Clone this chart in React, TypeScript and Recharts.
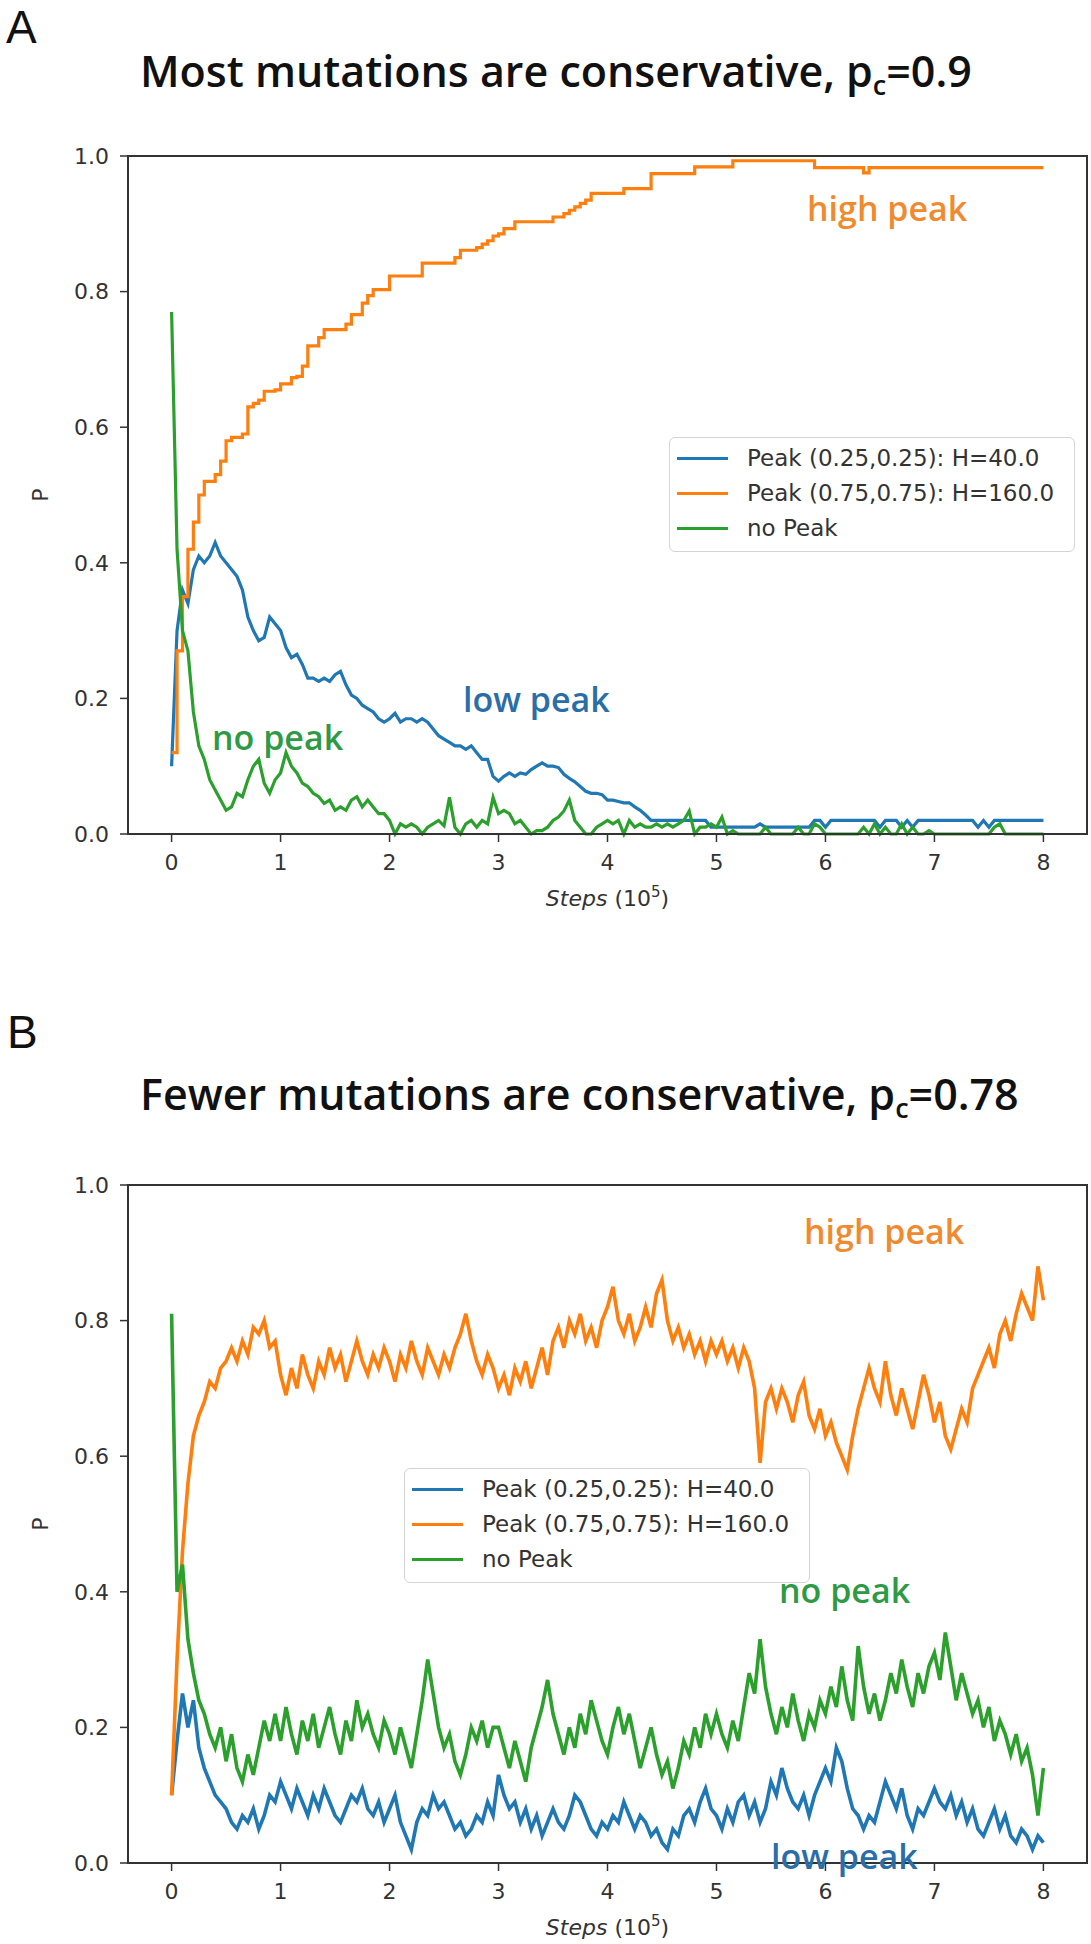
import React from "react";
import { LineChart, Line, XAxis, YAxis, ReferenceArea, Legend } from "recharts";

// x positions (steps, in units of 10^5)
const STEPS = [
  0, 0.05, 0.1, 0.15, 0.2, 0.25, 0.3, 0.35, 0.4, 0.45, 0.5, 0.55, 0.6, 0.65, 0.7, 0.75, 0.8, 0.85, 0.9, 0.95,
  1, 1.05, 1.1, 1.15, 1.2, 1.25, 1.3, 1.35, 1.4, 1.45, 1.5, 1.55, 1.6, 1.65, 1.7, 1.75, 1.8, 1.85, 1.9, 1.95,
  2, 2.05, 2.1, 2.15, 2.2, 2.25, 2.3, 2.35, 2.4, 2.45, 2.5, 2.55, 2.6, 2.65, 2.7, 2.75, 2.8, 2.85, 2.9, 2.95,
  3, 3.05, 3.1, 3.15, 3.2, 3.25, 3.3, 3.35, 3.4, 3.45, 3.5, 3.55, 3.6, 3.65, 3.7, 3.75, 3.8, 3.85, 3.9, 3.95,
  4, 4.05, 4.1, 4.15, 4.2, 4.25, 4.3, 4.35, 4.4, 4.45, 4.5, 4.55, 4.6, 4.65, 4.7, 4.75, 4.8, 4.85, 4.9, 4.95,
  5, 5.05, 5.1, 5.15, 5.2, 5.25, 5.3, 5.35, 5.4, 5.45, 5.5, 5.55, 5.6, 5.65, 5.7, 5.75, 5.8, 5.85, 5.9, 5.95,
  6, 6.05, 6.1, 6.15, 6.2, 6.25, 6.3, 6.35, 6.4, 6.45, 6.5, 6.55, 6.6, 6.65, 6.7, 6.75, 6.8, 6.85, 6.9, 6.95,
  7, 7.05, 7.1, 7.15, 7.2, 7.25, 7.3, 7.35, 7.4, 7.45, 7.5, 7.55, 7.6, 7.65, 7.7, 7.75, 7.8, 7.85, 7.9, 7.95,
  8,
];

const X_TICKS = [0, 1, 2, 3, 4, 5, 6, 7, 8];
const Y_TICKS = [0, 0.2, 0.4, 0.6, 0.8, 1.0];

const SERIES_NAMES = ["Peak (0.25,0.25): H=40.0", "Peak (0.75,0.75): H=160.0", "no Peak"];
const SERIES_COLORS = ["#1f77b4", "#ff7f0e", "#2ca02c"];

// panel A: p_c = 0.9
const A_LOW = [
  0.10, 0.30, 0.36, 0.34, 0.39, 0.41, 0.40, 0.41, 0.43, 0.41, 0.40, 0.39, 0.38, 0.36, 0.32, 0.30, 0.285, 0.29, 0.32, 0.31,
  0.30, 0.275, 0.26, 0.265, 0.25, 0.23, 0.23, 0.225, 0.23, 0.225, 0.235, 0.24, 0.22, 0.205, 0.20, 0.19, 0.185, 0.18, 0.17, 0.165,
  0.17, 0.178, 0.165, 0.17, 0.17, 0.165, 0.17, 0.165, 0.155, 0.145, 0.14, 0.135, 0.13, 0.13, 0.125, 0.13, 0.12, 0.11, 0.11, 0.085,
  0.078, 0.085, 0.09, 0.085, 0.09, 0.088, 0.095, 0.10, 0.105, 0.10, 0.10, 0.098, 0.088, 0.082, 0.077, 0.07, 0.063, 0.06, 0.06, 0.058,
  0.05, 0.05, 0.048, 0.046, 0.046, 0.04, 0.035, 0.028, 0.02, 0.02, 0.02, 0.02, 0.02, 0.02, 0.02, 0.02, 0.02, 0.02, 0.02, 0.01,
  0.01, 0.01, 0.01, 0.01, 0.01, 0.01, 0.01, 0.01, 0.015, 0.01, 0.01, 0.01, 0.01, 0.01, 0.01, 0.01, 0.01, 0.01, 0.02, 0.02,
  0.01, 0.02, 0.02, 0.02, 0.02, 0.02, 0.02, 0.02, 0.02, 0.02, 0.01, 0.02, 0.02, 0.02, 0.01, 0.02, 0.01, 0.02, 0.02, 0.02,
  0.02, 0.02, 0.02, 0.02, 0.02, 0.02, 0.02, 0.02, 0.01, 0.02, 0.01, 0.02, 0.02, 0.02, 0.02, 0.02, 0.02, 0.02, 0.02, 0.02,
  0.02,
];
const A_HIGH = [
  0.12, 0.27, 0.35, 0.42, 0.46, 0.50, 0.52, 0.52, 0.53, 0.55, 0.58, 0.585, 0.585, 0.59, 0.63, 0.635, 0.64, 0.653, 0.653, 0.655,
  0.664, 0.664, 0.673, 0.675, 0.69, 0.72, 0.72, 0.732, 0.744, 0.744, 0.744, 0.744, 0.752, 0.766, 0.766, 0.783, 0.794, 0.803, 0.803, 0.803,
  0.823, 0.823, 0.823, 0.823, 0.823, 0.823, 0.842, 0.842, 0.842, 0.842, 0.842, 0.842, 0.85, 0.861, 0.861, 0.861, 0.865, 0.87, 0.875, 0.882,
  0.885, 0.893, 0.893, 0.903, 0.903, 0.903, 0.903, 0.903, 0.903, 0.903, 0.91, 0.91, 0.915, 0.92, 0.925, 0.93, 0.935, 0.945, 0.945, 0.945,
  0.945, 0.945, 0.945, 0.952, 0.952, 0.952, 0.952, 0.952, 0.974, 0.974, 0.974, 0.974, 0.974, 0.974, 0.974, 0.974, 0.984, 0.984, 0.984, 0.984,
  0.984, 0.984, 0.984, 0.993, 0.993, 0.993, 0.993, 0.993, 0.993, 0.993, 0.993, 0.993, 0.993, 0.993, 0.993, 0.993, 0.993, 0.993, 0.983, 0.983,
  0.983, 0.983, 0.983, 0.983, 0.983, 0.983, 0.983, 0.975, 0.983, 0.983, 0.983, 0.983, 0.983, 0.983, 0.983, 0.983, 0.983, 0.983, 0.983, 0.983,
  0.983, 0.983, 0.983, 0.983, 0.983, 0.983, 0.983, 0.983, 0.983, 0.983, 0.983, 0.983, 0.983, 0.983, 0.983, 0.983, 0.983, 0.983, 0.983, 0.983,
  0.983,
];
const A_NONE = [
  0.77, 0.42, 0.30, 0.27, 0.18, 0.13, 0.11, 0.08, 0.065, 0.05, 0.035, 0.04, 0.06, 0.055, 0.08, 0.10, 0.11, 0.075, 0.06, 0.08,
  0.09, 0.12, 0.10, 0.09, 0.075, 0.07, 0.06, 0.055, 0.045, 0.05, 0.035, 0.04, 0.035, 0.05, 0.055, 0.04, 0.05, 0.04, 0.03, 0.03,
  0.02, 0.0, 0.015, 0.01, 0.015, 0.01, 0.0, 0.01, 0.015, 0.02, 0.012, 0.054, 0.01, 0.0, 0.015, 0.02, 0.01, 0.02, 0.015, 0.054,
  0.03, 0.035, 0.03, 0.015, 0.02, 0.01, 0.0, 0.005, 0.005, 0.01, 0.02, 0.025, 0.034, 0.05, 0.02, 0.01, 0.0, 0.0, 0.01, 0.015,
  0.02, 0.015, 0.02, 0.0, 0.02, 0.01, 0.015, 0.01, 0.01, 0.015, 0.01, 0.015, 0.01, 0.015, 0.02, 0.034, 0.0, 0.01, 0.01, 0.015,
  0.01, 0.025, 0.0, 0.005, 0, 0, 0, 0, 0, 0.01, 0, 0, 0, 0, 0, 0.01, 0, 0, 0.015, 0.01,
  0, 0, 0, 0, 0, 0, 0, 0.01, 0, 0.015, 0, 0.01, 0, 0, 0.015, 0, 0.01, 0, 0, 0.005,
  0, 0, 0, 0, 0, 0, 0, 0, 0, 0, 0, 0.01, 0.015, 0, 0, 0, 0, 0, 0, 0,
  0,
];

// panel B: p_c = 0.78
const B_LOW = [
  0.10, 0.18, 0.25, 0.20, 0.24, 0.17, 0.14, 0.12, 0.10, 0.09, 0.08, 0.06, 0.05, 0.07, 0.06, 0.08, 0.05, 0.07, 0.10, 0.09,
  0.12, 0.10, 0.08, 0.11, 0.09, 0.07, 0.10, 0.08, 0.11, 0.09, 0.07, 0.06, 0.08, 0.10, 0.09, 0.11, 0.08, 0.07, 0.09, 0.06,
  0.08, 0.10, 0.06, 0.04, 0.02, 0.06, 0.08, 0.07, 0.10, 0.08, 0.09, 0.07, 0.05, 0.06, 0.04, 0.05, 0.07, 0.06, 0.09, 0.07,
  0.13, 0.10, 0.08, 0.09, 0.06, 0.08, 0.05, 0.07, 0.04, 0.06, 0.08, 0.06, 0.05, 0.07, 0.10, 0.09, 0.07, 0.05, 0.04, 0.06,
  0.05, 0.07, 0.06, 0.09, 0.07, 0.05, 0.07, 0.06, 0.04, 0.05, 0.03, 0.02, 0.05, 0.04, 0.07, 0.08, 0.06, 0.09, 0.11, 0.08,
  0.07, 0.05, 0.08, 0.06, 0.09, 0.10, 0.07, 0.09, 0.06, 0.08, 0.12, 0.10, 0.14, 0.11, 0.09, 0.08, 0.10, 0.07, 0.10, 0.12,
  0.14, 0.12, 0.17, 0.15, 0.11, 0.08, 0.07, 0.05, 0.07, 0.06, 0.09, 0.12, 0.10, 0.08, 0.11, 0.07, 0.05, 0.08, 0.07, 0.09,
  0.11, 0.09, 0.08, 0.10, 0.07, 0.09, 0.06, 0.08, 0.05, 0.04, 0.06, 0.08, 0.05, 0.07, 0.04, 0.03, 0.05, 0.04, 0.02, 0.04,
  0.03,
];
const B_HIGH = [
  0.10, 0.30, 0.46, 0.56, 0.63, 0.66, 0.68, 0.71, 0.70, 0.73, 0.74, 0.76, 0.74, 0.77, 0.75, 0.79, 0.78, 0.80, 0.76, 0.77,
  0.72, 0.69, 0.73, 0.70, 0.75, 0.72, 0.70, 0.74, 0.72, 0.76, 0.73, 0.75, 0.71, 0.74, 0.77, 0.74, 0.72, 0.75, 0.73, 0.76,
  0.74, 0.71, 0.75, 0.73, 0.77, 0.74, 0.72, 0.76, 0.74, 0.72, 0.75, 0.73, 0.76, 0.78, 0.81, 0.77, 0.74, 0.72, 0.75, 0.73,
  0.70, 0.72, 0.69, 0.73, 0.71, 0.74, 0.70, 0.73, 0.76, 0.72, 0.77, 0.79, 0.76, 0.80, 0.78, 0.81, 0.77, 0.79, 0.76, 0.80,
  0.82, 0.85, 0.80, 0.78, 0.81, 0.77, 0.79, 0.82, 0.79, 0.84, 0.86, 0.80, 0.77, 0.79, 0.76, 0.78, 0.75, 0.77, 0.74, 0.77,
  0.75, 0.77, 0.74, 0.76, 0.73, 0.76, 0.74, 0.70, 0.59, 0.68, 0.70, 0.67, 0.70, 0.68, 0.65, 0.69, 0.71, 0.66, 0.64, 0.67,
  0.63, 0.65, 0.62, 0.60, 0.58, 0.63, 0.67, 0.70, 0.73, 0.70, 0.68, 0.74, 0.69, 0.66, 0.70, 0.67, 0.64, 0.68, 0.72, 0.69,
  0.65, 0.68, 0.63, 0.61, 0.64, 0.67, 0.65, 0.70, 0.72, 0.74, 0.76, 0.73, 0.78, 0.80, 0.77, 0.81, 0.84, 0.82, 0.80, 0.88,
  0.83,
];
const B_NONE = [
  0.81, 0.40, 0.44, 0.33, 0.28, 0.24, 0.22, 0.19, 0.17, 0.20, 0.15, 0.19, 0.14, 0.12, 0.16, 0.13, 0.17, 0.21, 0.18, 0.22,
  0.18, 0.23, 0.19, 0.16, 0.21, 0.18, 0.22, 0.17, 0.20, 0.23, 0.19, 0.16, 0.21, 0.18, 0.24, 0.20, 0.22, 0.19, 0.17, 0.21,
  0.19, 0.16, 0.20, 0.17, 0.14, 0.19, 0.24, 0.30, 0.25, 0.20, 0.17, 0.19, 0.15, 0.13, 0.16, 0.20, 0.18, 0.21, 0.17, 0.20,
  0.20, 0.17, 0.14, 0.18, 0.15, 0.12, 0.17, 0.20, 0.23, 0.27, 0.22, 0.19, 0.16, 0.20, 0.17, 0.22, 0.19, 0.24, 0.21, 0.18,
  0.16, 0.20, 0.23, 0.19, 0.22, 0.18, 0.14, 0.17, 0.20, 0.16, 0.13, 0.15, 0.11, 0.14, 0.18, 0.16, 0.20, 0.17, 0.22, 0.19,
  0.22, 0.19, 0.17, 0.21, 0.18, 0.23, 0.28, 0.25, 0.33, 0.26, 0.22, 0.19, 0.23, 0.20, 0.25, 0.21, 0.18, 0.22, 0.20, 0.24,
  0.22, 0.26, 0.23, 0.29, 0.24, 0.21, 0.32, 0.26, 0.22, 0.25, 0.21, 0.24, 0.28, 0.25, 0.30, 0.26, 0.23, 0.28, 0.25, 0.29,
  0.31, 0.27, 0.34, 0.29, 0.24, 0.28, 0.25, 0.22, 0.24, 0.20, 0.23, 0.18, 0.21, 0.19, 0.16, 0.19, 0.15, 0.17, 0.13, 0.07,
  0.14,
];

const buildRows = (low: number[], high: number[], none: number[]) =>
  STEPS.map((step, i) => ({ step, low: low[i], high: high[i], none: none[i] }));

const TICK_FONT = "DejaVu Sans, sans-serif";
const INK = "#333";

const renderLegend = (props: any) => {
  const { payload = [] } = props;
  return (
    <div
      style={{
        width: 406,
        height: 115,
        boxSizing: "border-box",
        border: "1.5px solid #d4d4d4",
        borderRadius: 6,
        background: "rgba(255,255,255,0.85)",
        position: "relative",
        fontFamily: TICK_FONT,
        fontSize: 23,
        color: INK,
      }}
    >
      {payload.map((entry: any, i: number) => (
        <div
          key={i}
          style={{ position: "absolute", left: 0, top: 6 + i * 35, height: 28, display: "flex", alignItems: "center" }}
        >
          <span style={{ display: "inline-block", marginLeft: 7, width: 51, height: 3, background: entry.color }} />
          <span style={{ marginLeft: 19, whiteSpace: "nowrap", lineHeight: "28px" }}>{entry.value}</span>
        </div>
      ))}
    </div>
  );
};

const renderStepsLabel = (props: any) => {
  const vb = props.viewBox || { x: 128, y: 834, width: 959, height: 70 };
  const cx = vb.x + vb.width / 2;
  return (
    <text x={cx} y={vb.y + 72} textAnchor="middle" fontFamily={TICK_FONT} fontSize={22} fill={INK}>
      <tspan fontStyle="italic">Steps</tspan>
      <tspan> (10</tspan>
      <tspan dy={-9} fontSize={15}>5</tspan>
      <tspan dy={9}>)</tspan>
    </text>
  );
};

const renderPLabel = (props: any) => {
  const vb = props.viewBox || { x: 0, y: 156, width: 128, height: 678 };
  const cx = vb.x + 40;
  const cy = vb.y + vb.height / 2;
  return (
    <text
      x={cx}
      y={cy}
      transform={`rotate(-90, ${cx}, ${cy})`}
      textAnchor="middle"
      dominantBaseline="central"
      fontFamily={TICK_FONT}
      fontSize={22}
      fill={INK}
    >
      P
    </text>
  );
};

type PanelProps = {
  rows: any[];
  top: number;
  highStep: boolean;
  lineWidth: number;
  legendLeft: number;
  legendTop: number;
};

function Panel({ rows, top, highStep, lineWidth, legendLeft, legendTop }: PanelProps) {
  return (
    <div style={{ position: "absolute", left: 0, top }}>
      <LineChart width={1091} height={915} data={rows} margin={{ top: 156, right: 4, left: 0, bottom: 11 }}>
        <XAxis
          dataKey="step"
          type="number"
          domain={[-0.4, 8.4]}
          ticks={X_TICKS}
          height={70}
          tickSize={8}
          tickMargin={12}
          tick={{ fontFamily: TICK_FONT, fontSize: 22, fill: INK }}
          tickLine={{ stroke: INK, strokeWidth: 1.5 }}
          axisLine={{ stroke: INK, strokeWidth: 2 }}
          label={{ content: renderStepsLabel }}
        />
        <YAxis
          type="number"
          domain={[0, 1]}
          ticks={Y_TICKS}
          width={128}
          tickSize={8}
          tickMargin={11}
          tickFormatter={(v: number) => v.toFixed(1)}
          tick={{ fontFamily: TICK_FONT, fontSize: 22, fill: INK }}
          tickLine={{ stroke: INK, strokeWidth: 1.5 }}
          axisLine={{ stroke: INK, strokeWidth: 2 }}
          label={{ content: renderPLabel }}
        />
        <Legend
          layout="vertical"
          align="center"
          verticalAlign="middle"
          wrapperStyle={{ left: legendLeft, top: legendTop, width: 406, height: 115 }}
          content={renderLegend}
        />
        <Line
          dataKey="low"
          name={SERIES_NAMES[0]}
          stroke={SERIES_COLORS[0]}
          strokeWidth={lineWidth}
          dot={false}
          type="linear"
          isAnimationActive={false}
        />
        <Line
          dataKey="high"
          name={SERIES_NAMES[1]}
          stroke={SERIES_COLORS[1]}
          strokeWidth={lineWidth}
          dot={false}
          type={highStep ? "stepAfter" : "linear"}
          isAnimationActive={false}
        />
        <Line
          dataKey="none"
          name={SERIES_NAMES[2]}
          stroke={SERIES_COLORS[2]}
          strokeWidth={lineWidth}
          dot={false}
          type="linear"
          isAnimationActive={false}
        />
        <ReferenceArea x1={-0.4} x2={8.4} y1={0} y2={1} fill="none" stroke={INK} strokeWidth={2} />
      </LineChart>
    </div>
  );
}

const ANNOT_FONT = "Open Sans, sans-serif";
const HIGH_INK = "#f08a2e";
const LOW_INK = "#2a6ea8";
const NONE_INK = "#2e9a45";

export default function App() {
  const rowsA = buildRows(A_LOW, A_HIGH, A_NONE);
  const rowsB = buildRows(B_LOW, B_HIGH, B_NONE);
  return (
    <div style={{ position: "absolute", left: 0, top: 0, width: 1091, height: 1944, background: "#fff" }}>
      <Panel rows={rowsA} top={0} highStep lineWidth={3.2} legendLeft={669} legendTop={437} />
      <Panel rows={rowsB} top={1029} highStep={false} lineWidth={3.6} legendLeft={404} legendTop={439} />
      <svg
        width={1091}
        height={1944}
        style={{ position: "absolute", left: 0, top: 0, pointerEvents: "none" }}
      >
        <text x={6} y={43} fontFamily="Liberation Sans, sans-serif" fontSize={46} fill="#111">A</text>
        <text x={140} y={87} fontFamily={ANNOT_FONT} fontWeight={600} fontSize={43} fill="#111">
          Most mutations are conservative, p<tspan fontSize={27} dy={8}>c</tspan>
          <tspan dy={-8}>=0.9</tspan>
        </text>
        <text x={807} y={221} fontFamily={ANNOT_FONT} fontWeight={600} fontSize={34} fill={HIGH_INK}>high peak</text>
        <text x={463} y={712} fontFamily={ANNOT_FONT} fontWeight={600} fontSize={34} fill={LOW_INK}>low peak</text>
        <text x={212} y={750} fontFamily={ANNOT_FONT} fontWeight={600} fontSize={34} fill={NONE_INK}>no peak</text>

        <text x={7} y={1048} fontFamily="Liberation Sans, sans-serif" fontSize={46} fill="#111">B</text>
        <text x={140} y={1110} fontFamily={ANNOT_FONT} fontWeight={600} fontSize={43} fill="#111">
          Fewer mutations are conservative, p<tspan fontSize={27} dy={8}>c</tspan>
          <tspan dy={-8}>=0.78</tspan>
        </text>
        <text x={804} y={1244} fontFamily={ANNOT_FONT} fontWeight={600} fontSize={34} fill={HIGH_INK}>high peak</text>
        <text x={779} y={1603} fontFamily={ANNOT_FONT} fontWeight={600} fontSize={34} fill={NONE_INK}>no peak</text>
        <text x={771} y={1869} fontFamily={ANNOT_FONT} fontWeight={600} fontSize={34} fill={LOW_INK}>low peak</text>
      </svg>
    </div>
  );
}
